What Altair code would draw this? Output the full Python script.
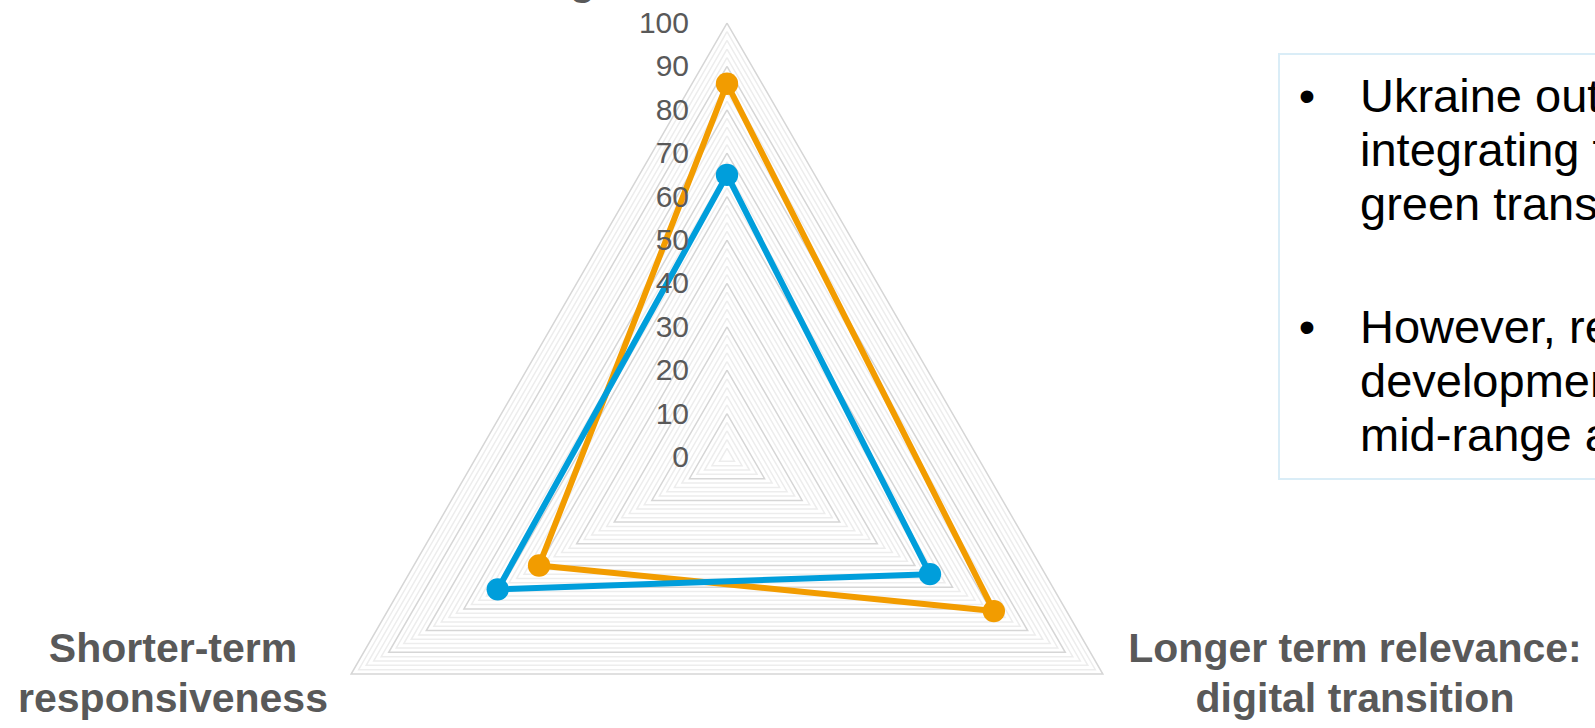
import altair as alt
import pandas as pd

# ---- data ----
categories = ["Longer term relevance: green transition",
              "Longer term relevance: digital transition",
              "Shorter-term responsiveness"]
angles_deg = [90, -30, 210]
series_names = ["Ukraine", "Comparator"]
ukraine_values = [86, 71, 50]
comparator_values = [65, 54, 61]
series_colors = ["#F29C00", "#009EDB"]
tick_values = list(range(0, 101, 10))
grid_levels = list(range(2, 101, 2))

bullet_1 = ["Ukraine outperforms", "integrating the", "green transition"]
bullet_2 = ["However, recent", "development", "mid-range and"]

# ---- layout ----
W, H = 1595, 728
CX, CY, PPU = 727, 457, 4.34
FONT = "Liberation Sans"
x_scale = alt.Scale(domain=[-CX / PPU, (W - CX) / PPU], nice=False, zero=False)
y_scale = alt.Scale(domain=[-(H - CY) / PPU, CY / PPU], nice=False, zero=False)

XCALC = "datum.r * cos(datum.angle * PI / 180)"
YCALC = "datum.r * sin(datum.angle * PI / 180)"

# grid triangles
grid_rows = []
for lv in grid_levels:
    for i in range(4):
        grid_rows.append({"r": lv, "ord": i, "angle": angles_deg[i % 3],
                          "major": lv % 10 == 0})
grid_df = pd.DataFrame(grid_rows)

def grid_layer(major, color):
    return (alt.Chart(grid_df)
            .transform_filter(f"datum.major == {'true' if major else 'false'}")
            .transform_calculate(x=XCALC, y=YCALC)
            .mark_line(strokeWidth=1.5, color=color)
            .encode(x=alt.X("x:Q", scale=x_scale, axis=None),
                    y=alt.Y("y:Q", scale=y_scale, axis=None),
                    detail="r:N", order="ord:Q"))

minor_grid = grid_layer(False, "#EDEDED")
major_grid = grid_layer(True, "#D6D6D6")

# series
series_rows = []
for name, vals in zip(series_names, [ukraine_values, comparator_values]):
    for i in range(4):
        series_rows.append({"series": name, "ord": i, "category": categories[i % 3],
                            "angle": angles_deg[i % 3], "r": vals[i % 3]})
series_df = pd.DataFrame(series_rows)

def series_layers(name, color):
    base = (alt.Chart(series_df)
            .transform_filter(f"datum.series == '{name}'")
            .transform_calculate(x=XCALC, y=YCALC)
            .encode(x=alt.X("x:Q", scale=x_scale, axis=None),
                    y=alt.Y("y:Q", scale=y_scale, axis=None)))
    line = base.mark_line(strokeWidth=6, color=color, strokeJoin="round").encode(order="ord:Q")
    pts = base.transform_filter("datum.ord < 3").mark_circle(size=500, opacity=1, color=color)
    return [line, pts]

orange_layers = series_layers("Ukraine", series_colors[0])
blue_layers = series_layers("Comparator", series_colors[1])

# radial tick labels
tick_df = pd.DataFrame({"v": tick_values})
ticks = (alt.Chart(tick_df)
         .mark_text(align="right", baseline="middle", fontSize=30, color="#595959", font=FONT, dy=1)
         .encode(x=alt.value(689),
                 y=alt.Y("v:Q", scale=y_scale, axis=None),
                 text="v:Q"))

one = pd.DataFrame({"a": [0]})

def label(lines, x, y, **kw):
    return (alt.Chart(one)
            .mark_text(text=lines, font=FONT, **kw)
            .encode(x=alt.value(x), y=alt.value(y)))

cat_style = dict(fontSize=41, fontWeight="bold", color="#595959", align="center",
                 baseline="alphabetic", lineHeight=50)
top_label = label(["Longer term relevance:", "green transition"], 725, -55, **cat_style)
left_label = label(["Shorter-term", "responsiveness"], 173, 662, **cat_style)
right_label = label(["Longer term relevance:", "digital transition"], 1355, 662, **cat_style)

# text box
box = (alt.Chart(one)
       .mark_rect(fillOpacity=0, stroke="#DAEDF7", strokeWidth=2)
       .encode(x=alt.value(1279), x2=alt.value(1800), y=alt.value(54), y2=alt.value(479)))

txt_style = dict(fontSize=47, color="#000000", align="left", baseline="alphabetic", lineHeight=54)
b1 = label(["•"], 1307, 112, fontSize=47, color="#000000", align="center", baseline="alphabetic")
b2 = label(["•"], 1307, 343, fontSize=47, color="#000000", align="center", baseline="alphabetic")
t1 = label(bullet_1, 1360, 112, **txt_style)
t2 = label(bullet_2, 1360, 343, **txt_style)

chart = (alt.layer(minor_grid, major_grid, *orange_layers, *blue_layers, ticks,
                   top_label, left_label, right_label, box, b1, b2, t1, t2)
         .properties(width=W, height=H, autosize="none", padding=0, background="white")
         .configure_view(stroke=None))

chart.save("out.html", embed_options={"renderer": "svg", "actions": False})
